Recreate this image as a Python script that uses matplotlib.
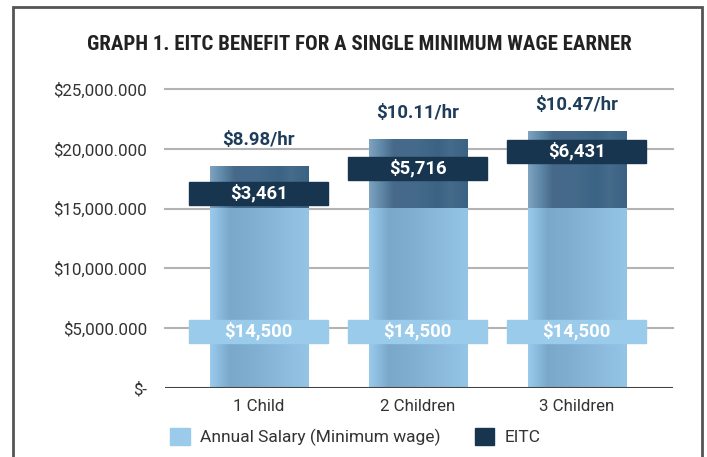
import numpy as np
import matplotlib.pyplot as plt
from matplotlib.patches import Rectangle, Patch
from matplotlib.colors import to_rgb
from matplotlib import font_manager

categories = ['1 Child', '2 Children', '3 Children']
salary = [15080, 15080, 15080]          # bar height as drawn
salary_labels = ['$14,500', '$14,500', '$14,500']
eitc = [3461, 5716, 6431]
eitc_labels = ['$3,461', '$5,716', '$6,431']
wage_labels = ['$8.98/hr', '$10.11/hr', '$10.47/hr']
yticks = [0, 5000, 10000, 15000, 20000, 25000]
ytick_labels = ['$-', '$5,000.000', '$10,000.000', '$15,000.000', '$20,000.000', '$25,000.000']

# label box centres (as placed in the original)
eitc_label_y = [16260, 18350, 19770]
salary_label_y = [4720, 4720, 4720]

light = '#9ACBEB'
navy = '#17354F'
txt = '#333333'

plt.rcParams['font.family'] = ['Roboto', 'DejaVu Sans']

# pick a condensed face for the title if one is installed
title_family, title_size = 'Roboto', 12.8
for fam in ['Roboto Condensed', 'Liberation Sans Narrow', 'Open Sans Condensed']:
    try:
        font_manager.findfont(fam, fallback_to_default=False)
        title_family, title_size = fam, 15
        break
    except ValueError:
        pass

fig = plt.figure(figsize=(7.07, 4.57), dpi=100)
ax = fig.add_axes([165 / 707, 69 / 457, 508 / 707, 299 / 457])

x = np.arange(len(categories))
w = 0.62


def gradient(stops, n=200):
    pos = [s[0] for s in stops]
    cols = np.array([to_rgb(s[1]) for s in stops])
    t = np.linspace(0, 1, n)
    out = np.stack([np.interp(t, pos, cols[:, k]) for k in range(3)], axis=-1)
    return out[np.newaxis, :, :]


light_grad = gradient([(0, '#9ACBEB'), (0.08, '#8DBDDF'), (0.2, '#7AA8CA'),
                       (0.45, '#81AFD1'), (0.75, '#8CBBDD'), (1, '#95C5E6')])
dark_grad = gradient([(0, '#7FA3C0'), (0.12, '#6089A8'), (0.25, '#47698A'),
                      (0.5, '#446A8A'), (0.7, '#3B6384'), (0.82, '#466B8B'),
                      (1, '#3A6283')])

b1 = ax.bar(x, salary, w, color='none', zorder=2)
b2 = ax.bar(x, eitc, w, bottom=salary, color='none', zorder=2)
for bars, grad in [(b1, light_grad), (b2, dark_grad)]:
    for r in bars:
        x0, y0 = r.get_x(), r.get_y()
        im = ax.imshow(grad, extent=(x0, x0 + r.get_width(), y0, y0 + r.get_height()),
                       aspect='auto', zorder=2, interpolation='bilinear')
        im.set_clip_path(r)

# gridlines
for v in yticks[1:]:
    ax.axhline(v, color='#B3B3B3', lw=1.5, zorder=1, clip_on=False)
ax.axhline(0, color='#444444', lw=1.5, zorder=3)

box_w = 0.874
box_h = 1920
for i in range(len(categories)):
    ax.add_patch(Rectangle((x[i] - box_w / 2, eitc_label_y[i] - box_h / 2), box_w, box_h,
                           color=navy, zorder=4))
    ax.text(x[i], eitc_label_y[i], eitc_labels[i], ha='center', va='center',
            color='white', fontsize=13.3, fontweight='bold', zorder=5)
    ax.add_patch(Rectangle((x[i] - box_w / 2, salary_label_y[i] - box_h / 2), box_w, box_h,
                           color=light, zorder=4))
    ax.text(x[i], salary_label_y[i], salary_labels[i], ha='center', va='center',
            color='white', fontsize=13.3, fontweight='bold', zorder=5)
    ax.annotate(wage_labels[i], (x[i], salary[i] + eitc[i]), xytext=(0, 26),
                textcoords='offset pixels', ha='center', va='center',
                color='#1E3D5A', fontsize=13.4, fontweight='bold', zorder=5)

ax.set_xlim(-0.59, 2.605)
ax.set_ylim(0, 25000)
ax.set_yticks(yticks)
ax.set_yticklabels(ytick_labels, fontsize=12.2, color=txt)
ax.set_xticks(x)
ax.set_xticklabels(categories, fontsize=12.2, color=txt)
ax.tick_params(axis='both', length=0)
ax.tick_params(axis='y', pad=13)
ax.tick_params(axis='x', pad=8)
for s in ax.spines.values():
    s.set_visible(False)

fig.text(359 / 707, 1 - 45 / 457, 'GRAPH 1. EITC BENEFIT FOR A SINGLE MINIMUM WAGE EARNER',
         ha='center', va='center', fontsize=title_size, fontweight='bold', color='#222222',
         family=[title_family, 'DejaVu Sans'])

# outer frame
fig.add_artist(Rectangle((13 / 707, -0.1), (702 - 13) / 707, 1.1 - 7 / 457,
                         transform=fig.transFigure, fill=False, ec='#555555', lw=2))

handles = [Patch(color=light, label='Annual Salary (Minimum wage)'),
           Patch(color=navy, label='EITC')]
fig.legend(handles=handles, loc='center', bbox_to_anchor=(0.503, 1 - 437 / 457), ncol=2,
           frameon=False, fontsize=12.5, handlelength=1.1, handleheight=1.1,
           columnspacing=2.0, handletextpad=0.6, labelcolor=txt)

fig.savefig('out.png', dpi=100)
